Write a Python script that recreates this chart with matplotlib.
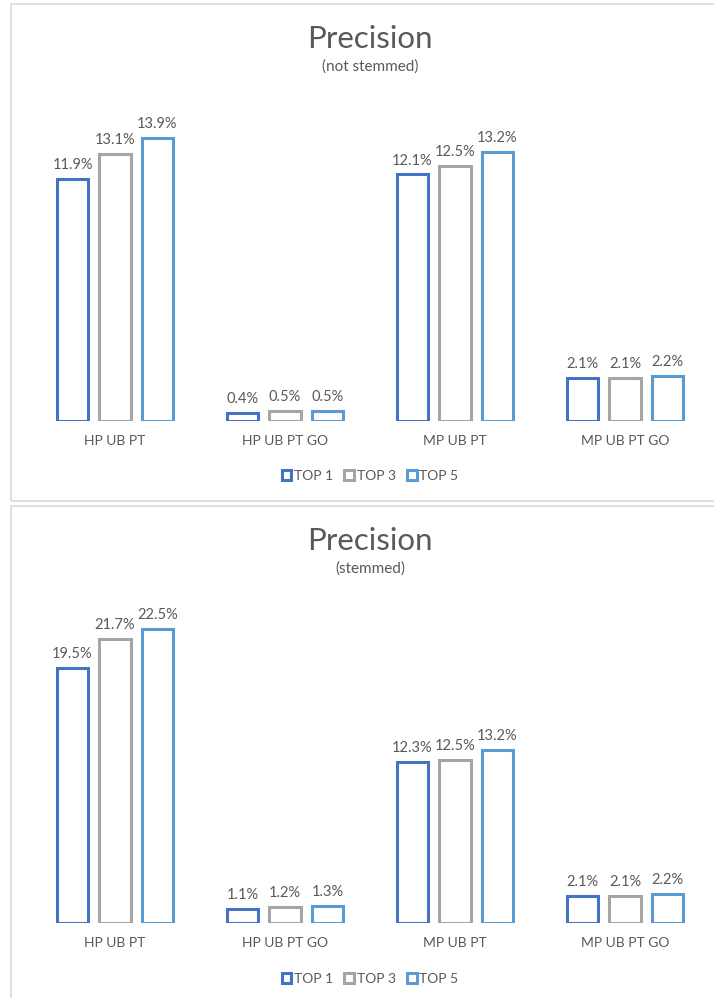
import matplotlib.pyplot as plt
from matplotlib.patches import Rectangle
import numpy as np

plt.rcParams['font.family'] = ['Lato', 'DejaVu Sans']

categories = ["HP UB PT", "HP UB PT GO", "MP UB PT", "MP UB PT GO"]
series_names = ["TOP 1", "TOP 3", "TOP 5"]
not_stemmed = {
    "TOP 1": [11.9, 0.4, 12.1, 2.1],
    "TOP 3": [13.1, 0.5, 12.5, 2.1],
    "TOP 5": [13.9, 0.5, 13.2, 2.2],
}
stemmed = {
    "TOP 1": [19.5, 1.1, 12.3, 2.1],
    "TOP 3": [21.7, 1.2, 12.5, 2.1],
    "TOP 5": [22.5, 1.3, 13.2, 2.2],
}
colors = {"TOP 1": "#4472C4", "TOP 3": "#A5A5A5", "TOP 5": "#5B9BD5"}
text_grey = "#595959"

W, H = 714, 998
fig = plt.figure(figsize=(W / 100, H / 100), dpi=100)


def px_box(left, top, right, bottom):
    # pixel box (origin top-left) -> figure fraction rect
    return [left / W, 1 - bottom / H, (right - left) / W, (bottom - top) / H]


def draw_panel(rect, data, ymax, subtitle, title_y, sub_y, cat_y, leg_y):
    ax = fig.add_axes(rect)
    x = np.arange(len(categories))
    for i, name in enumerate(series_names):
        vals = data[name]
        bars = ax.bar(x + (i - 1) * 0.25, vals, width=0.185, facecolor="white",
                      edgecolor=colors[name], linewidth=2.2, label=name)
        for b, v in zip(bars, vals):
            ax.annotate(f"{v:.1f}%", (b.get_x() + b.get_width() / 2, v),
                        xytext=(0, 5), textcoords="offset points",
                        ha="center", va="bottom", fontsize=10.5, color=text_grey)
    ax.set_xlim(-0.5, len(categories) - 0.5)
    ax.set_ylim(0, ymax)
    ax.set_yticks([])
    ax.set_xticks([])
    for s in ax.spines.values():
        s.set_visible(False)
    for xi, c in zip(x, categories):
        fig.text(rect[0] + rect[2] * (xi + 0.5) / len(categories), 1 - cat_y / H, c,
                 ha="center", va="center", fontsize=10, color=text_grey)
    cx = rect[0] + rect[2] / 2
    fig.text(cx, 1 - title_y / H, "Precision", ha="center", va="center",
             fontsize=22.5, color=text_grey)
    fig.text(cx, 1 - sub_y / H, subtitle, ha="center", va="center",
             fontsize=11, color=text_grey)
    fig.legend(*ax.get_legend_handles_labels(), loc="center",
               bbox_to_anchor=(cx, 1 - leg_y / H), ncol=3, frameon=False,
               fontsize=10, labelcolor=text_grey, handlelength=0.7,
               handleheight=0.7, handletextpad=0.2, columnspacing=0.8)


# panel frames
for top, bottom in [(3.5, 501), (506, 1010)]:
    fig.patches.append(Rectangle((11.5 / W, 1 - bottom / H), 720 / W,
                                 (bottom - top) / H, transform=fig.transFigure,
                                 facecolor="none", edgecolor="#d9d9d9",
                                 linewidth=1.2))

draw_panel(px_box(30, 95, 710, 421), not_stemmed, 16, "(not stemmed)",
           38.5, 66.5, 441, 476)
draw_panel(px_box(30, 596, 710, 923), stemmed, 25, "(stemmed)",
           541.5, 569, 943, 979)

fig.savefig("out.png", dpi=100)
